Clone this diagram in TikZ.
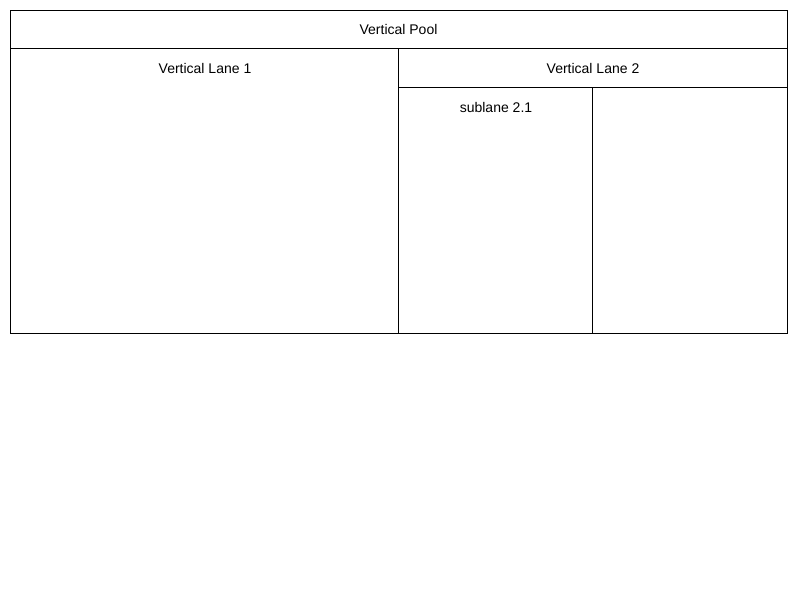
\documentclass[tikz,border=0pt]{standalone}
\usepackage{fontspec}
\setmainfont{Liberation Sans}
\usetikzlibrary{positioning}

\begin{document}
\begin{tikzpicture}[x=1pt,y=-1pt,line width=1pt,
    lbl/.style={font=\fontsize{14}{16}\selectfont,inner sep=0pt}]
        \useasboundingbox (0,0) rectangle (800,600);
        % pool
        \draw (10,10) rectangle (787,333);
        \draw (10,48) -- (787,48);
        \node[lbl] (pool) at (398.5,29) {Vertical Pool};

        % lanes
        \draw (398,48) -- (398,333);
        \node[lbl] (lane1) at (205,68) {Vertical Lane 1};
        \draw (398,87) -- (787,87);
        \node[lbl] (lane2) at (593,68) {Vertical Lane 2};

        % sublanes
        \draw (592,87) -- (592,333);
        \node[lbl] (sub21) at (496,107) {sublane 2.1};
      \end{tikzpicture}
\end{document}
